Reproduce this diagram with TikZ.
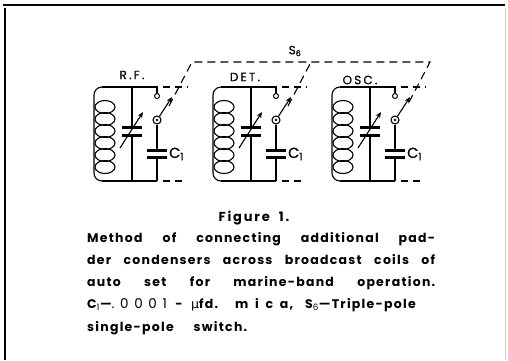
\documentclass[tikz,border=0pt]{standalone}
\usepackage{fontspec}
\setmainfont{Poppins}
\newfontfamily\greekf{DejaVu Sans}
\usetikzlibrary{arrows.meta}
\tikzset{
  wire/.style={line width=1.1pt},
  plate/.style={line width=3pt},
  dash stub/.style={line width=1.1pt, dash pattern=on 7pt off 5pt},
  gang/.style={line width=1.1pt, dash pattern=on 8pt off 5pt},
  terminal/.style={circle, draw, line width=1pt, minimum size=5pt, inner sep=0pt, fill=white},
  pivot/.style={circle, draw, line width=1.1pt, minimum size=8pt, inner sep=0pt, fill=white},
  lab/.style={font=\fontsize{12}{13}\selectfont\addfontfeature{LetterSpace=18,FakeBold=0.6}, inner sep=0pt},
  clab/.style={font=\fontsize{14.5}{15}\selectfont\addfontfeature{FakeBold=0.6}, inner sep=0pt, anchor=west},
  capline/.style={anchor=base west, inner sep=0pt, font=\fontsize{12.5}{14}\bfseries\addfontfeature{LetterSpace=10}},
  arr/.style={wire, -{Stealth[length=6pt,width=5pt]}}
}
\newcommand{\lightsub}[1]{\textsubscript{\mdseries #1}}
\begin{document}
\begin{tikzpicture}[x=1pt,y=-1pt]
\useasboundingbox (0,0) rectangle (508,360);
\fill[white] (0,0) rectangle (508,360);
% frame
\draw[line width=1.5pt] (3,5) -- (505,5);
\draw[line width=1.3pt] (5,8) -- (5,360);
\draw[gray!40, line width=0.8pt] (505,8) -- (505,360);
% circuits
\foreach \i/\sx in {1/157,2/276,3/395}{
  \coordinate (tl\i) at ({\sx-55},87);
  \coordinate (bl\i) at ({\sx-55},181);
  \coordinate (ct\i) at ({\sx-25},87);
  \coordinate (cb\i) at ({\sx-25},181);
  \coordinate (st\i) at (\sx,87);
  \coordinate (sb\i) at (\sx,181);
  \coordinate (gb\i) at ({\sx+12},106);
  \coordinate (gt\i) at ({\sx+35},62);
  % coil
  \draw[wire, rounded corners=8pt] (tl\i) -- ({\sx-63},87) -- ({\sx-63},181) -- (bl\i);
  \foreach \k in {0,...,5}
    \draw[wire] ({\sx-52},{107+12*\k}) ellipse [x radius=10, y radius=6.5];
  % top and bottom wires
  \node[terminal] (term\i) at (\sx,96) {};
  \node[pivot] (piv\i) at (\sx,120) {};
  \fill (piv\i) circle (1.3pt);
  \draw[wire] (tl\i) -- (st\i) -- (term\i);
  \draw[wire] (bl\i) -- (sb\i);
  % variable capacitor
  \draw[wire] (ct\i) -- ({\sx-25},127);
  \draw[wire] ({\sx-25},135) -- (cb\i);
  \draw[plate] ({\sx-35},127) -- ({\sx-15},127);
  \draw[plate] ({\sx-35},135) -- ({\sx-15},135);
  \draw[arr] ({\sx-37},148) -- ({\sx-14},112);
  % C1
  \draw[wire] (piv\i) -- (\sx,150);
  \draw[wire] (\sx,157) -- (sb\i);
  \draw[plate] ({\sx-10},150) -- ({\sx+10},150);
  \draw[plate] ({\sx-10},157) -- ({\sx+10},157);
  \node[clab] (c\i) at ({\sx+12},154) {C\textsubscript{1}};
  % switch blade
  \draw[arr] (piv\i) -- ({\sx+15},97);
  % dashed stubs
  \draw[dash stub] ({\sx+6},87) -- ({\sx+31},87);
  \draw[dash stub] ({\sx+6},181) -- ({\sx+29},181);
}
% gang line
\draw[gang] (gb1) -- (gt1) -- (gt3) -- (gb3);
\draw[gang] (gb2) -- (gt2);
% labels
\node[lab] (rf) at (132,75) {R.F.};
\node[lab] (det) at (245,77) {DET.};
\node[lab] (osc) at (360,80) {OSC.};
\node[lab] (s6) at (295,51) {S\textsubscript{6}};
% caption
\node[anchor=base, inner sep=0pt, font=\fontsize{13}{14}\bfseries\addfontfeature{LetterSpace=14}] (fig) at (254,221) {Figure\ \ 1.};
\node[capline] (l1) at (87,242) {\makebox[348pt][s]{Method of connecting additional pad-}};
\node[capline] (l2) at (87,264) {\makebox[348pt][s]{der condensers across broadcast coils of}};
\node[capline] (l3) at (87,286) {\makebox[348pt][s]{auto set for marine-band operation.}};
\node[capline] (l4) at (87,308) {\makebox[348pt][l]{\makebox[131pt][s]{C\lightsub{1}---{\mdseries\fontsize{13.5}{14}\selectfont\addfontfeature{LetterSpace=42}.0001}\hfil-\hfil{\greekf\mdseries μ}fd.}\hspace{17pt}\makebox[58pt][s]{m i c a,}\hspace{12pt}\makebox[130pt][s]{S\lightsub{6}---Triple-pole}}};
\node[capline] (l5) at (87,331) {\makebox[160pt][s]{single-pole switch.}};
\end{tikzpicture}
\end{document}
